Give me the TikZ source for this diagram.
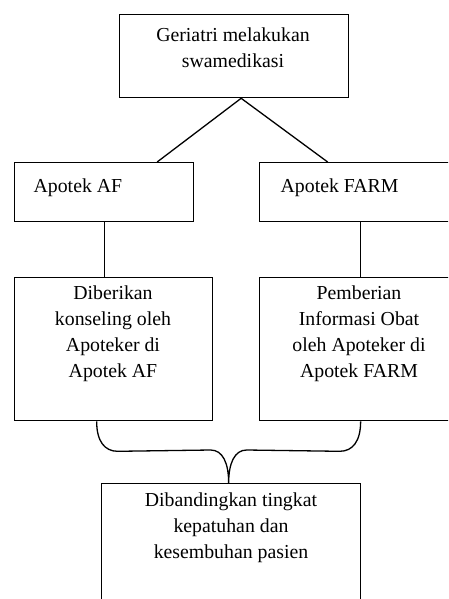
\documentclass[tikz,border=0pt]{standalone}
\usepackage{fontspec}
\setmainfont{Liberation Serif}
\usetikzlibrary{calc}
\begin{document}
\begin{tikzpicture}[x=1pt, y=-1pt, line width=1.3pt,
        box/.style={draw, rectangle, inner sep=0pt, anchor=north west},
        txt/.style={inner sep=0pt, align=center, font=\fontsize{19.8}{26}\selectfont}]

        \useasboundingbox (0,0) rectangle (448,599);
        \clip (0,0) rectangle (448,599);

        % Boxes
        \node[box, minimum width=229pt, minimum height=83pt] (top) at (119,14) {};
        \node[box, minimum width=179pt, minimum height=59pt] (af) at (14,162) {};
        \node[box, minimum width=202pt, minimum height=59pt] (farm) at (259,162) {};
        \node[box, minimum width=198pt, minimum height=143pt] (konseling) at (14,277) {};
        \node[box, minimum width=202pt, minimum height=143pt] (pio) at (259,277) {};
        \node[box, minimum width=259pt, minimum height=140pt] (hasil) at (101,483) {};

        % Texts (base = last line)
        \node[txt, anchor=base] (topText) at (233,68) {Geriatri melakukan\\swamedikasi};
        \node[txt, anchor=base west] (afText) at (33,192) {Apotek AF};
        \node[txt, anchor=base west] (farmText) at (280,192) {Apotek FARM};
        \node[txt, anchor=base] (konselingText) at (113,377) {Diberikan\\konseling oleh\\Apoteker di\\Apotek AF};
        \node[txt, anchor=base] (pioText) at (359,377) {Pemberian\\Informasi Obat\\oleh Apoteker di\\Apotek FARM};
        \node[txt, anchor=base] (hasilText) at (231,558) {Dibandingkan tingkat\\kepatuhan dan\\kesembuhan pasien};

        % Connectors
        \coordinate (apex) at ([xshift=7pt]top.south);
        \draw (apex) -- ([xshift=53pt]af.north);
        \draw (apex) -- ([xshift=-33pt]farm.north);
        \draw (af.south) -- (af.south |- konseling.north);
        \draw (farm.south) -- (farm.south |- pio.north);

        % Brace
        \coordinate (braceL) at ([xshift=-17pt]konseling.south);
        \coordinate (braceR) at (pio.south);
        \coordinate (tip) at ([xshift=-2.5pt]hasil.north);
        \draw (braceL) .. controls ($(braceL)+(0,20)$) and ($(braceL)+(8,30)$) .. ($(braceL)+(21,30)$)
            -- ($(tip)+(-18,-33)$) .. controls ($(tip)+(-6,-33)$) and ($(tip)+(0,-20)$) .. (tip)
            .. controls ($(tip)+(0,-20)$) and ($(tip)+(6,-33)$) .. ($(tip)+(18,-33)$)
            -- ($(braceR)+(-21,30)$) .. controls ($(braceR)+(-8,30)$) and ($(braceR)+(0,20)$) .. (braceR);

    \end{tikzpicture}
\end{document}
